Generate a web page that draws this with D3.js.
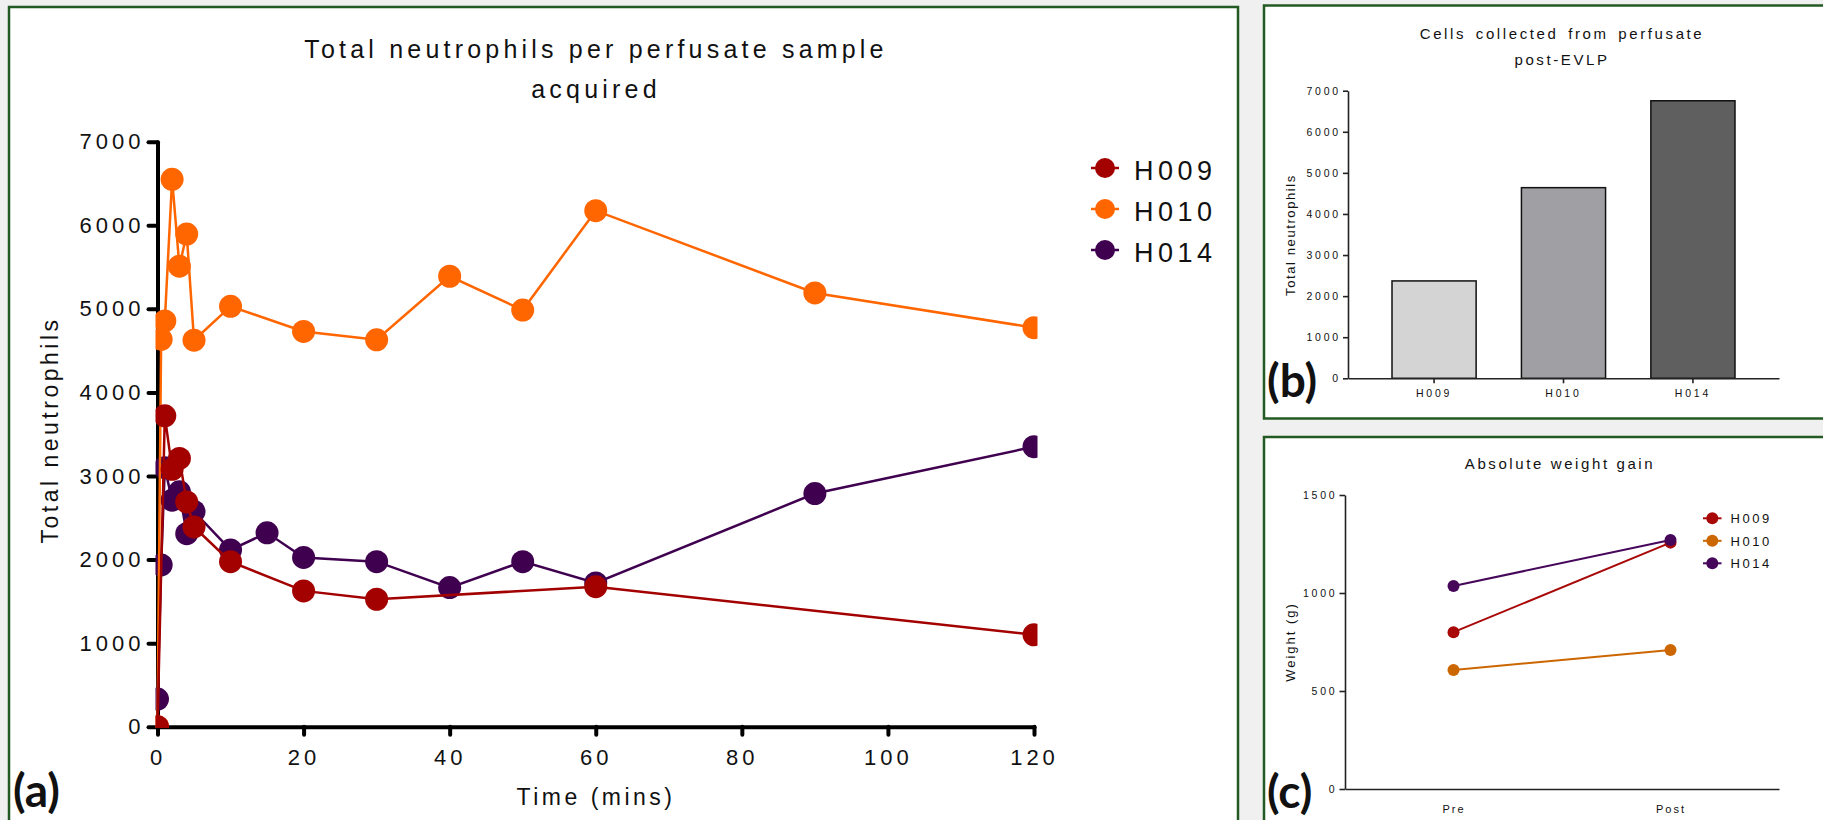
<!DOCTYPE html>
<html>
<head>
<meta charset="utf-8">
<script src="https://cdn.jsdelivr.net/npm/d3@7"></script>
<style>
body { margin: 0; background: #f0f0f0; }
svg text { font-family: "Liberation Sans", Arial, Helvetica, sans-serif; fill: #111; }
</style>
</head>
<body>
<svg width="1823" height="820"></svg>
<script>
// (a) total neutrophils per perfusate sample
const timeH009 = [0, 1, 2, 3, 4, 5, 10, 20, 30, 60, 120];
const neutH009 = [0, 3720, 3080, 3210, 2690, 2390, 1975, 1625, 1525, 1675, 1100];
const timeH010 = [0, 0.5, 1, 2, 3, 4, 5, 10, 20, 30, 40, 50, 60, 90, 120];
const neutH010 = [0, 4635, 4855, 6550, 5510, 5895, 4625, 5030, 4730, 4630, 5390, 4985, 6175, 5190, 4775];
const timeH014 = [0, 0.5, 1, 2, 3, 4, 5, 10, 15, 20, 30, 40, 50, 60, 90, 120];
const neutH014 = [330, 1935, 3100, 2710, 2810, 2310, 2575, 2115, 2320, 2025, 1975, 1665, 1975, 1720, 2790, 3350];
const timeTicks = [0, 20, 40, 60, 80, 100, 120];
const neutTicks = [0, 1000, 2000, 3000, 4000, 5000, 6000, 7000];

// (b) cells collected post-EVLP
const lungs = ["H009", "H010", "H014"];
const collected = [2370, 4640, 6755];

// (c) absolute weight gain
const stages = ["Pre", "Post"];
const weightPre = [800, 607, 1036];
const weightPost = [1257, 709, 1270];
const weightTicks = [0, 500, 1000, 1500];

const colorsA = {H009: "#a30000", H010: "#ff6600", H014: "#400050"};
const colorsC = {H009: "#a80808", H010: "#cc6600", H014: "#46065a"};
const barFill = ["#d4d4d4", "#a0a0a4", "#5f5f5f"];

var plain = d3.format("d");
var svg = d3.select("svg");

// panel frames
function frame(x, y, w, h) {
    svg.append("rect")
        .attr("x", x).attr("y", y)
        .attr("width", w).attr("height", h)
        .attr("fill", "#fff")
        .attr("stroke", "#235a23")
        .attr("stroke-width", 2.5);
}
frame(9, 7, 1229, 840);
frame(1264, 5.5, 600, 413);
frame(1264, 437, 600, 420);

function panelLetter(txt, x, y) {
    svg.append("text")
        .attr("x", x).attr("y", y)
        .style("font-family", "Lato, 'Open Sans', sans-serif")
        .style("font-weight", 700)
        .style("font-size", "46px")
        .text(txt);
}

// ---------------- panel (a) ----------------
var xA = d3.scaleLinear().domain([0, 120]).range([157.5, 1034]);
var yA = d3.scaleLinear().domain([0, 7000]).range([726.7, 141.7]);

// Title
svg.append("text")
    .attr("x", 596).attr("y", 58)
    .attr("text-anchor", "middle")
    .style("font-size", "25px")
    .style("letter-spacing", "4.2px")
    .text("Total neutrophils per perfusate sample");
svg.append("text")
    .attr("x", 596).attr("y", 98)
    .attr("text-anchor", "middle")
    .style("font-size", "25px")
    .style("letter-spacing", "4.2px")
    .text("acquired");

// X label
svg.append("text")
    .attr("x", 596).attr("y", 805)
    .attr("text-anchor", "middle")
    .style("font-size", "23px")
    .style("letter-spacing", "3.5px")
    .text("Time (mins)");

// Y label
svg.append("text")
    .attr("text-anchor", "middle")
    .attr("transform", "translate(58,430)rotate(-90)")
    .style("font-size", "23px")
    .style("letter-spacing", "3.5px")
    .text("Total neutrophils");

// axes
var axA = svg.append("g")
    .attr("transform", "translate(0,726.7)")
    .call(d3.axisBottom(xA).tickValues(timeTicks).tickFormat(plain).tickSize(8).tickSizeOuter(0).tickPadding(15));
var ayA = svg.append("g")
    .attr("transform", "translate(157.5,0)")
    .call(d3.axisLeft(yA).tickValues(neutTicks).tickFormat(plain).tickSize(9).tickSizeOuter(0).tickPadding(4));
[axA, ayA].forEach(function(g) {
    g.select(".domain").attr("stroke", "#000").attr("stroke-width", 4).attr("stroke-linecap", "round");
    g.selectAll(".tick line").attr("stroke", "#000").attr("stroke-width", 4).attr("stroke-linecap", "round");
    g.selectAll("text")
        .attr("fill", "#111")
        .style("font-family", "'Liberation Sans', Arial, sans-serif")
        .style("font-size", "22px")
        .style("letter-spacing", "4px");
});

svg.append("clipPath").attr("id", "clipA")
    .append("rect").attr("x", 155.5).attr("y", 100).attr("width", 882).attr("height", 628);

var seriesA = [
    {name: "H014", t: timeH014, v: neutH014},
    {name: "H010", t: timeH010, v: neutH010},
    {name: "H009", t: timeH009, v: neutH009}
];
var lineA = d3.line()
    .x(function(d) { return xA(d[0]); })
    .y(function(d) { return yA(d[1]); });

var plotA = svg.append("g").attr("clip-path", "url(#clipA)");
seriesA.forEach(function(s) {
    var pts = s.t.map(function(t, i) { return [t, s.v[i]]; });
    plotA.append("path")
        .datum(pts)
        .attr("d", lineA)
        .attr("fill", "none")
        .attr("stroke", colorsA[s.name])
        .attr("stroke-width", 2.5);
    plotA.selectAll(".dot" + s.name)
        .data(pts)
        .enter()
        .append("circle")
        .attr("cx", function(d) { return xA(d[0]); })
        .attr("cy", function(d) { return yA(d[1]); })
        .attr("r", 11.5)
        .attr("fill", colorsA[s.name]);
});

// legend (a)
lungs.forEach(function(name, i) {
    var y = 168 + i * 41;
    svg.append("line")
        .attr("x1", 1091).attr("x2", 1119).attr("y1", y).attr("y2", y)
        .attr("stroke", colorsA[name]).attr("stroke-width", 2.5);
    svg.append("circle").attr("cx", 1105).attr("cy", y).attr("r", 10).attr("fill", colorsA[name]);
    svg.append("text")
        .attr("x", 1134).attr("y", y + 12)
        .style("font-size", "27px")
        .style("letter-spacing", "4.5px")
        .text(name);
});

panelLetter("(a)", 13, 807);

// ---------------- panel (b) ----------------
var xB = d3.scaleBand().domain(lungs).range([1348, 1779]).paddingInner(0.35).paddingOuter(0.34);
var yB = d3.scaleLinear().domain([0, 7000]).range([378.3, 90.7]);

svg.append("text")
    .attr("x", 1562).attr("y", 39)
    .attr("text-anchor", "middle")
    .style("font-size", "15px")
    .style("letter-spacing", "2.6px")
    .style("word-spacing", "3px")
    .text("Cells collected from perfusate");
svg.append("text")
    .attr("x", 1562).attr("y", 65)
    .attr("text-anchor", "middle")
    .style("font-size", "15px")
    .style("letter-spacing", "2.6px")
    .text("post-EVLP");

svg.append("text")
    .attr("text-anchor", "middle")
    .attr("transform", "translate(1295,235)rotate(-90)")
    .style("font-size", "13px")
    .style("letter-spacing", "1.6px")
    .text("Total neutrophils");

svg.selectAll(".bar")
    .data(lungs)
    .enter()
    .append("rect")
    .attr("x", function(d) { return xB(d); })
    .attr("y", function(d, i) { return yB(collected[i]); })
    .attr("width", xB.bandwidth())
    .attr("height", function(d, i) { return yB(0) - yB(collected[i]); })
    .attr("fill", function(d, i) { return barFill[i]; })
    .attr("stroke", "#111")
    .attr("stroke-width", 1.5);

var axB = svg.append("g")
    .attr("transform", "translate(0,378.3)")
    .call(d3.axisBottom(xB).tickSize(5).tickSizeOuter(0).tickPadding(6));
var ayB = svg.append("g")
    .attr("transform", "translate(1348,0)")
    .call(d3.axisLeft(yB).tickValues(neutTicks).tickFormat(plain).tickSize(5).tickSizeOuter(0).tickPadding(2));

// ---------------- panel (c) ----------------
var xC = d3.scalePoint().domain(stages).range([1345, 1779]).padding(0.5);
var yC = d3.scaleLinear().domain([0, 1500]).range([789, 495]);

svg.append("text")
    .attr("x", 1560).attr("y", 469)
    .attr("text-anchor", "middle")
    .style("font-size", "15px")
    .style("letter-spacing", "2.6px")
    .text("Absolute weight gain");

svg.append("text")
    .attr("text-anchor", "middle")
    .attr("transform", "translate(1295,642)rotate(-90)")
    .style("font-size", "13px")
    .style("letter-spacing", "2px")
    .text("Weight (g)");

var axC = svg.append("g")
    .attr("transform", "translate(0,789)")
    .call(d3.axisBottom(xC).tickSize(0).tickSizeOuter(0).tickPadding(16));
var ayC = svg.append("g")
    .attr("transform", "translate(1345,0)")
    .call(d3.axisLeft(yC).tickValues(weightTicks).tickFormat(plain).tickSize(5.5).tickSizeOuter(0).tickPadding(2));

[axB, ayB, axC, ayC].forEach(function(g) {
    g.select(".domain").attr("stroke", "#222").attr("stroke-width", 1.6);
    g.selectAll(".tick line").attr("stroke", "#222").attr("stroke-width", 1.6);
    g.selectAll("text")
        .attr("fill", "#111")
        .style("font-family", "'Liberation Sans', Arial, sans-serif")
        .style("font-size", "10.5px")
        .style("letter-spacing", "2.8px");
});
axC.selectAll("text").style("font-size", "11px").style("letter-spacing", "2px");

var lineC = d3.line()
    .x(function(d) { return xC(d[0]); })
    .y(function(d) { return yC(d[1]); });

lungs.forEach(function(name, i) {
    var pts = [["Pre", weightPre[i]], ["Post", weightPost[i]]];
    svg.append("path")
        .datum(pts)
        .attr("d", lineC)
        .attr("fill", "none")
        .attr("stroke", colorsC[name])
        .attr("stroke-width", 2);
    svg.selectAll(".wdot" + name)
        .data(pts)
        .enter()
        .append("circle")
        .attr("cx", function(d) { return xC(d[0]); })
        .attr("cy", function(d) { return yC(d[1]); })
        .attr("r", 6)
        .attr("fill", colorsC[name]);
});

// legend (c)
lungs.forEach(function(name, i) {
    var y = 518.3 + i * 22.5;
    svg.append("line")
        .attr("x1", 1703).attr("x2", 1721.5).attr("y1", y).attr("y2", y)
        .attr("stroke", colorsC[name]).attr("stroke-width", 2);
    svg.append("circle").attr("cx", 1712.3).attr("cy", y).attr("r", 6).attr("fill", colorsC[name]);
    svg.append("text")
        .attr("x", 1730.6).attr("y", y + 5)
        .style("font-size", "13px")
        .style("letter-spacing", "2.5px")
        .text(name);
});

panelLetter("(b)", 1267, 397);
panelLetter("(c)", 1267, 808);
</script>
</body>
</html>
